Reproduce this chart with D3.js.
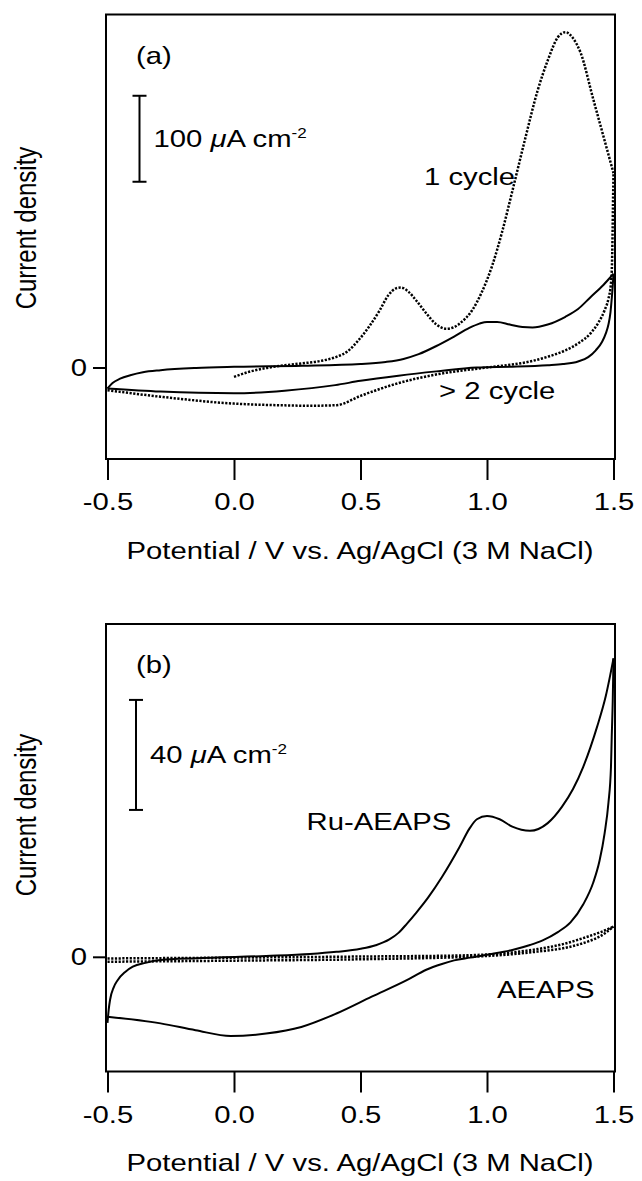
<!DOCTYPE html>
<html>
<head>
<meta charset="utf-8">
<script src="https://cdn.jsdelivr.net/npm/d3@7"></script>
<style>
  body { margin: 0; background: #fff; }
  text { font-family: "Liberation Sans", Arial, Helvetica, sans-serif; fill: #000; }
</style>
</head>
<body>
<div id="chart"></div>
<script>
// ---------------- data (potential in V, current density in µA cm-2) ----------------
const potentialTicks = [-0.5, 0.0, 0.5, 1.0, 1.5];

// (a) first cycle, dotted
const aCycle1Fwd = [[0.00,-10.9],[0.06,-5],[0.13,-0.5],[0.2,2.5],[0.265,4.7],[0.34,7.5],[0.405,12.4],[0.45,19],
  [0.49,31],[0.535,48],[0.575,66],[0.61,84],[0.64,92],[0.66,93],[0.69,88],[0.72,78],[0.76,63],[0.8,50],
  [0.84,45],[0.87,47],[0.90,53],[0.94,66],[0.98,88],[1.02,118],[1.06,158],[1.10,205],[1.15,265],[1.20,322],
  [1.24,357],[1.28,384],[1.31,390],[1.34,383],[1.37,366],[1.42,312],[1.475,253],[1.50,226]];
const aCycle1Rev = [[1.50,226],[1.498,190],[1.496,150],[1.494,120],[1.49,98],[1.48,80],[1.464,66],[1.44,52],
  [1.41,40],[1.36,28],[1.31,20],[1.24,12.5],[1.17,7],[1.0,0],[0.82,-7],[0.64,-19],[0.5,-33],[0.405,-43.8],
  [0.3,-44.5],[0.2,-44],[0.0,-42],[-0.29,-34],[-0.5,-26.4]];
// (a) > 2 cycle, solid
const aSteadyFwd = [[-0.5,-24.4],[-0.48,-18],[-0.45,-13],[-0.41,-9],[-0.36,-5.5],[-0.29,-3.1],[-0.15,-0.5],
  [0.0,0.8],[0.27,1.9],[0.5,4],[0.6,6.5],[0.67,10],[0.73,15.5],[0.8,25],[0.87,36],[0.93,46],[0.97,51],
  [1.0,53],[1.04,53],[1.09,50],[1.14,47],[1.18,46.5],[1.24,50],[1.31,59],[1.36,68],[1.41,82],[1.46,96],[1.5,109]];
const aSteadyRev = [[1.5,109],[1.497,95],[1.493,80],[1.488,64],[1.48,50],[1.47,40],[1.455,30],[1.43,20],
  [1.4,12],[1.36,7],[1.3,4],[1.24,2.7],[1.1,1],[0.96,0],[0.8,-4.5],[0.65,-9.5],[0.5,-15.5],[0.4,-20.5],
  [0.2,-27],[0.0,-30],[-0.29,-28],[-0.5,-24.4]];

// (b) Ru-AEAPS, solid
const bRuFwd = [[-0.5,-24],[-0.495,-19],[-0.49,-15.7],[-0.475,-11],[-0.46,-8.5],[-0.43,-5.5],[-0.40,-3.6],
  [-0.35,-2.2],[-0.29,-1.2],[-0.15,-0.5],[0.127,0.3],[0.3,1.0],[0.405,1.8],[0.5,2.9],[0.56,4.2],[0.614,6.3],
  [0.65,8.7],[0.683,12.0],[0.72,16],[0.767,21.5],[0.822,29],[0.892,40],[0.93,46.5],[0.96,50],[1.0,51.2],
  [1.05,50],[1.10,47.3],[1.17,45.8],[1.24,48.6],[1.296,54.5],[1.34,61],[1.38,69],[1.435,83.6],[1.47,95],[1.5,108.5]];
const bRuRev = [[1.5,108.5],[1.497,93],[1.493,80],[1.49,69],[1.48,56],[1.465,45],[1.445,35],[1.42,27],
  [1.38,19],[1.33,12.5],[1.28,9.0],[1.22,6],[1.17,4.3],[1.1,2.5],[1.017,1.0],[0.934,-0.3],[0.87,-1.3],
  [0.822,-2.6],[0.76,-4.7],[0.683,-8.5],[0.544,-14.5],[0.405,-20.6],[0.266,-25.5],[0.127,-27.9],
  [-0.013,-28.8],[-0.152,-26.7],[-0.29,-24.2],[-0.5,-21.8]];
// (b) AEAPS, dotted
const bAeapsFwd = [[-0.5,-0.6],[0,-0.3],[0.5,0.1],[0.9,0.5],[1.1,1.6],[1.2,2.8],[1.3,4.6],[1.4,7.4],[1.45,9],[1.5,11]];
const bAeapsRev = [[1.5,11],[1.45,7.6],[1.4,5.6],[1.3,3.1],[1.2,1.9],[1.0,0.3],[0.5,-0.9],[0,-1.4],[-0.5,-1.8]];

const scaleBarA = 100;  // µA cm-2
const scaleBarB = 40;

// ---------------- layout ----------------
const W = 642, H = 1181;
const SX = 1.22;   // the original figure is stretched sideways
const FS = 24;

const svg = d3.select('#chart').append('svg')
  .attr('width', W).attr('height', H);

const x = d3.scaleLinear().domain([-0.5, 1.5]).range([107.5, 613.5]);

function stext(g, tx, ty, rotate) {
  return g.append('text')
    .attr('transform', `translate(${tx},${ty}) scale(${SX},1)` + (rotate ? ' rotate(-90)' : ''))
    .attr('font-size', FS);
}

function unitLabel(g, tx, ty, value) {
  const t = stext(g, tx, ty);
  t.append('tspan').text(value + ' ');
  t.append('tspan').attr('font-style', 'italic').text('\u03bc');
  t.append('tspan').text('A cm');
  t.append('tspan').attr('font-size', 14).attr('dy', -9).text('-2');
}

function panel(cfg) {
  const g = svg.append('g');
  const y = d3.scaleLinear().domain(cfg.yDomain).range([cfg.bottom, cfg.top]);

  g.append('clipPath').attr('id', cfg.id + 'clip')
    .append('rect').attr('x', 106).attr('y', cfg.top).attr('width', 509).attr('height', cfg.bottom - cfg.top);

  // frame
  g.append('rect').attr('x', 106).attr('y', cfg.top).attr('width', 509).attr('height', cfg.bottom - cfg.top)
    .attr('fill', 'none').attr('stroke', '#000').attr('stroke-width', 2);

  // x axis
  const xa = g.append('g').attr('transform', `translate(0,${cfg.bottom})`)
    .call(d3.axisBottom(x).tickValues(potentialTicks).tickSize(21).tickSizeOuter(0)
      .tickFormat(d => d.toFixed(1)));
  xa.select('.domain').remove();
  xa.selectAll('line').attr('stroke-width', 2);
  xa.selectAll('text').attr('y', null).attr('dy', null)
    .attr('transform', `translate(0,51) scale(${SX},1)`)
    .attr('font-size', FS).attr('font-family', null);

  // y axis: only the zero tick
  const ya = g.append('g').attr('transform', 'translate(106,0)')
    .call(d3.axisLeft(y).tickValues([0]).tickSize(13).tickFormat(() => '0'));
  ya.select('.domain').remove();
  ya.selectAll('line').attr('stroke-width', 2);
  ya.selectAll('text').attr('x', null).attr('dy', null)
    .attr('transform', `translate(-19,8) scale(${SX},1)`)
    .attr('font-size', FS).attr('font-family', null);

  // axis titles
  stext(g, 360, cfg.bottom + 99.5).attr('text-anchor', 'middle')
    .text('Potential / V vs. Ag/AgCl (3 M NaCl)');
  stext(g, 36, cfg.yTitle, true).attr('text-anchor', 'middle').text('Current density');

  // curves: every sweep branch is monotone in potential
  const line = d3.line().x(d => x(d[0])).y(d => y(d[1])).curve(d3.curveMonotoneX);
  const plot = g.append('g').attr('clip-path', `url(#${cfg.id}clip)`);
  cfg.series.forEach(s => {
    plot.append('path').attr('d', line(d3.sort(s.data, d => d[0])))
      .attr('fill', 'none').attr('stroke', '#000')
      .attr('stroke-width', s.dotted ? 2.5 : 2)
      .attr('stroke-dasharray', s.dotted ? '2.2 1.5' : null)
      .attr('stroke-linejoin', 'round');
  });

  // scale bar
  const bx = cfg.barX, y0 = y(cfg.barBase), y1 = y(cfg.barBase + cfg.barSize);
  g.append('line').attr('x1', bx).attr('x2', bx).attr('y1', y0).attr('y2', y1)
    .attr('stroke', '#000').attr('stroke-width', 2);
  [y0, y1].forEach(yy => g.append('line').attr('x1', bx - 7).attr('x2', bx + 7).attr('y1', yy).attr('y2', yy)
    .attr('stroke', '#000').attr('stroke-width', 2));
  unitLabel(g, bx + 14, (y0 + y1) / 2 + 8, cfg.barSize);

  // labels
  stext(g, 136, cfg.top + 49).text(cfg.tag);
  cfg.notes.forEach(n => stext(g, n.x, n.y).text(n.text));
}

panel({
  id: 'a', top: 14.5, bottom: 459, yDomain: [-106.4, 410.5], yTitle: 228,
  barX: 139.5, barBase: 216, barSize: scaleBarA, tag: '(a)',
  series: [
    { data: aCycle1Fwd, dotted: true }, { data: aCycle1Rev, dotted: true },
    { data: aSteadyFwd }, { data: aSteadyRev }
  ],
  notes: [{ x: 424, y: 185, text: '1 cycle' }, { x: 439, y: 399, text: '> 2 cycle' }]
});

panel({
  id: 'b', top: 624, bottom: 1071.5, yDomain: [-41.7, 121], yTitle: 815,
  barX: 136, barBase: 53.4, barSize: scaleBarB, tag: '(b)',
  series: [
    { data: bAeapsFwd, dotted: true }, { data: bAeapsRev, dotted: true },
    { data: bRuFwd }, { data: bRuRev }
  ],
  notes: [{ x: 306.5, y: 830, text: 'Ru-AEAPS' }, { x: 497, y: 998, text: 'AEAPS' }]
});
</script>
</body>
</html>
